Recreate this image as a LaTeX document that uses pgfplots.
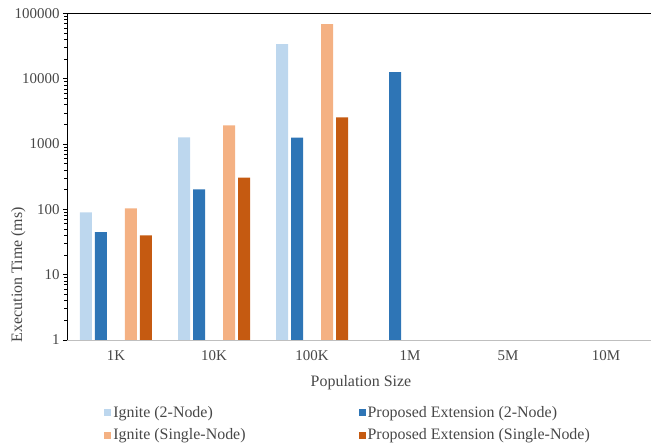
\documentclass[border=0pt]{standalone}
\usepackage{fontspec}
\setmainfont{Liberation Serif}
\usepackage{pgfplots}
\pgfplotsset{compat=1.18}
\definecolor{c1}{HTML}{BDD7EE}
\definecolor{c2}{HTML}{2E75B6}
\definecolor{c3}{HTML}{F4B183}
\definecolor{c4}{HTML}{C55A11}
\begin{document}
\begin{tikzpicture}
\begin{axis}[
  scale only axis, width=588bp, height=326.5bp,
  ymode=log, ymin=1, ymax=100000,
  xmin=-0.5, xmax=5.5,
  xtick={0,1,2,3,4,5}, xticklabels={1K,10K,100K,1M,5M,10M},
  ytick={1,10,100,1000,10000,100000},
  yticklabels={1,10,100,1000,10000,100000},
  minor ytick={},
  axis line style={draw=none},
  x tick style={draw=none},
  y tick style={black, line width=0.8pt},
  tick align=outside, major tick length=4bp,
  font=\fontsize{16}{18}\selectfont,
  tick label style={font=\fontsize{15}{17}\selectfont, text=black!72},
  xticklabel style={yshift=-3bp},
  xlabel={Population Size},
  xlabel style={text=black!72, yshift=-8bp},
  ylabel={Execution Time (ms)},
  ylabel style={at={(axis description cs:-0.083,0.2)}, anchor=center, text=black!72},
  bar width=12bp,
  legend columns=2,
  legend cell align=left,
  legend style={at={(0.478,-0.19)}, anchor=north, draw=none, fill=none,
    font=\fontsize{16}{18}\selectfont, text=black!72,
    /tikz/every even column/.append style={column sep=111bp},
    row sep=6bp},
  legend image code/.code={\fill[#1] (0bp,-3.5bp) rectangle (7bp,3.5bp);},
]
\addplot[ybar, bar shift=-30bp, fill=c1, draw=none] coordinates {(0,90) (1,1270) (2,34100)};
\addlegendentry{Ignite (2-Node)}
\addplot[ybar, bar shift=-15bp, fill=c2, draw=none] coordinates {(0,45) (1,203) (2,1253) (3,12700)};
\addlegendentry{Proposed Extension (2-Node)}
\addplot[ybar, bar shift=15bp, fill=c3, draw=none] coordinates {(0,104) (1,1940) (2,69000)};
\addlegendentry{Ignite (Single-Node)}
\addplot[ybar, bar shift=30bp, fill=c4, draw=none] coordinates {(0,40) (1,306) (2,2570)};
\addlegendentry{Proposed Extension (Single-Node)}
\draw[black!25, line width=0.8pt] (rel axis cs:0,0) -- (rel axis cs:1,0);
\draw[black, line width=0.9pt] (rel axis cs:0,0) -- (rel axis cs:0,1) -- (rel axis cs:1,1);
\coordinate (BL) at (rel axis cs:0,0);
\coordinate (TR) at (rel axis cs:1,1);
\end{axis}
\pgfresetboundingbox
\useasboundingbox ([shift={(-67bp,-105bp)}]BL) rectangle ([shift={(-4bp,13.5bp)}]TR);
\end{tikzpicture}
\end{document}
